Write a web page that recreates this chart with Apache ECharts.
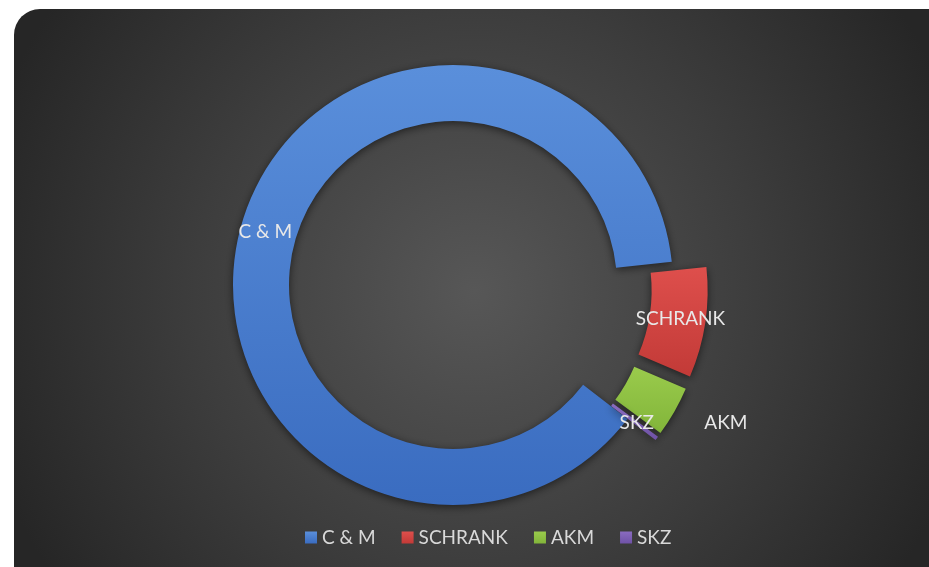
<!DOCTYPE html>
<html>
<head>
<meta charset="utf-8">
<script src="https://cdn.jsdelivr.net/npm/echarts@6/dist/echarts.min.js"></script>
<style>
  html, body { margin: 0; padding: 0; background: #ffffff; }
  #chart { width: 929px; height: 567px; }
</style>
</head>
<body>
<div id="chart"></div>
<script>
// Anteile je Bereich (aus dem Bild abgeschaetzt, in %)
const kategorien = ['C & M', 'SCHRANK', 'AKM', 'SKZ']
const werte = [87.9, 8.1, 3.7, 0.3]
const farben = [
    ['#5a8fdb', '#3a6cc0'],
    ['#de4f4c', '#c23a37'],
    ['#9acb4c', '#82b53a'],
    ['#8a6bc0', '#6f52a6']
]
// welche Stuecke herausgezogen sind
const herausgezogen = [false, true, true, true]

const chartDiv = document.getElementById('chart')
const myChart = echarts.init(chartDiv, null, { renderer: 'canvas' })

const daten = kategorien.map((name, i) => {
    const item = {
        name: name,
        value: werte[i],
        selected: herausgezogen[i],
        itemStyle: {
            color: new echarts.graphic.LinearGradient(0, 0, 0, 1, [
                { offset: 0, color: farben[i][0] },
                { offset: 1, color: farben[i][1] }
            ])
        }
    }
    if (name === 'AKM') {
        item.label = { position: 'outside', distanceToLabelLine: 4 }
        item.labelLine = { show: false, length: 23, length2: 6 }
    }
    return item
})

myChart.setOption({
    backgroundColor: '#ffffff',
    animation: false,
    graphic: [
        {
            type: 'rect',
            z: -10,
            silent: true,
            shape: { x: 14, y: 9, width: 960, height: 600, r: 26 },
            style: {
                fill: new echarts.graphic.RadialGradient(0.48, 0.47, 0.85, [
                    { offset: 0, color: '#575757' },
                    { offset: 0.55, color: '#3d3d3d' },
                    { offset: 1, color: '#262626' }
                ])
            }
        }
    ],
    legend: {
        bottom: 15,
        left: 300,
        icon: 'rect',
        itemWidth: 12,
        itemHeight: 12,
        itemGap: 26,
        selectedMode: false,
        textStyle: {
            color: '#d9d9d9',
            fontSize: 19,
            fontFamily: 'Lato'
        },
        data: kategorien
    },
    series: [
        {
            type: 'pie',
            center: [453, 285],
            radius: [164, 220],
            startAngle: -37.5,
            clockwise: true,
            selectedMode: 'multiple',
            selectedOffset: 35,
            avoidLabelOverlap: false,
            emphasis: { disabled: true },
            itemStyle: {
                shadowBlur: 8,
                shadowColor: 'rgba(0, 0, 0, 0.55)',
                shadowOffsetY: 2
            },
            label: {
                show: true,
                position: 'inside',
                color: '#e8e8e8',
                fontSize: 19,
                fontFamily: 'Lato',
                formatter: '{b}'
            },
            labelLine: { show: false },
            data: daten
        }
    ]
})
</script>
</body>
</html>
